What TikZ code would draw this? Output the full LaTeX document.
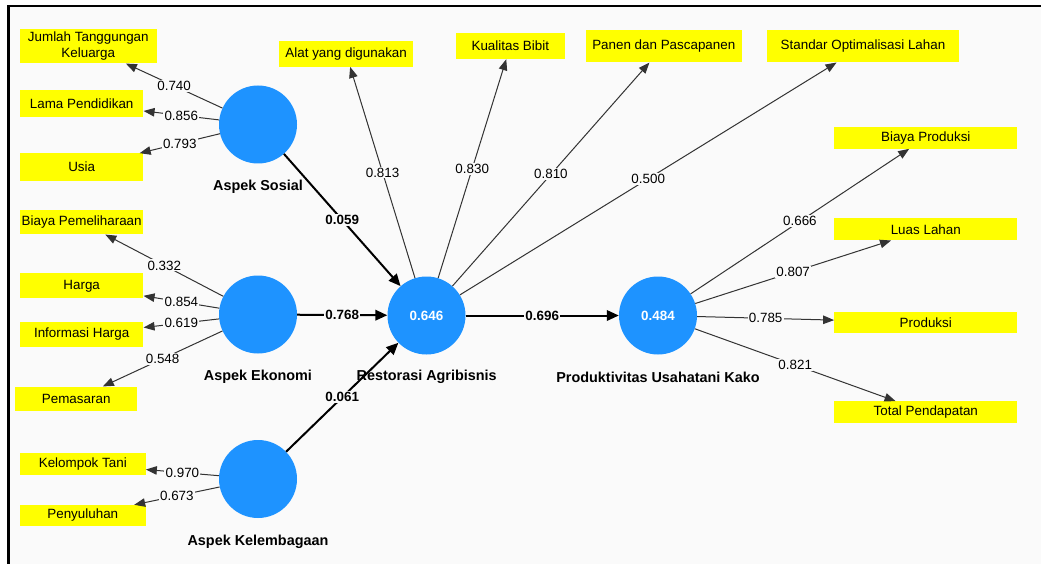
\documentclass[tikz,border=0pt]{standalone}
\usepackage{fontspec}
\setmainfont{Liberation Sans}
\usetikzlibrary{arrows.meta}
\definecolor{bg}{HTML}{FAFAFA}
\definecolor{lv}{HTML}{1E93FF}
\definecolor{ind}{HTML}{FFFF00}
\definecolor{ln}{HTML}{333333}
\tikzset{
  txt/.style={font=\fontsize{13.4}{16.5}\selectfont},
  boxnode/.style={txt, fill=ind, inner sep=0pt, align=center},
  lvnode/.style={circle, fill=lv, minimum size=78pt, inner sep=0pt, text=white, font=\bfseries\fontsize{13.4}{16}\selectfont},
  lvlabel/.style={font=\bfseries\fontsize{14.4}{17}\selectfont},
  load/.style={draw=ln, line width=1pt, -{Triangle[length=11pt,width=8.5pt]}},
  pathc/.style={draw=black, line width=2pt, -{Triangle[length=12pt,width=10.5pt]}},
  lval/.style={txt, fill=bg, inner sep=1.2pt},
  pval/.style={font=\bfseries\fontsize{13.4}{16}\selectfont, fill=bg, inner sep=1.2pt},
}
\begin{document}
\begin{tikzpicture}[x=1pt,y=-1pt]
\useasboundingbox (0,0) rectangle (1041,564);
\fill[white] (0,0) rectangle (1041,564);
\fill[bg] (8.3,6) rectangle (1041,564);
\draw[line width=2.5pt] (8.3,564) -- (8.3,6) -- (1041,6);

% latent variables
\node[lvnode] (sos) at (258,124.5) {};
\node[lvnode] (eko) at (258,314.5) {};
\node[lvnode] (kel) at (258,479) {};
\node[lvnode] (res) at (426.5,315.5) {0.646};
\node[lvnode] (pro) at (658,315.5) {0.484};

\node[lvlabel] (sosl) at (258,187) {Aspek Sosial};
\node[lvlabel] (ekol) at (258,377) {Aspek Ekonomi};
\node[lvlabel] (kell) at (258,541.5) {Aspek Kelembagaan};
\node[lvlabel] (resl) at (426.7,377.3) {Restorasi Agribisnis};
\node[lvlabel] (prol) at (658,377.3) {Produktivitas Usahatani Kako};

% indicators
\node[boxnode, minimum width=136.7pt, minimum height=34.3pt] (jtk) at (88.3,46.2) {Jumlah Tanggungan\\Keluarga};
\node[boxnode, minimum width=123.3pt, minimum height=27.3pt] (lp) at (81.7,103.7) {Lama Pendidikan};
\node[boxnode, minimum width=123.3pt, minimum height=27.7pt] (usia) at (81.7,167.2) {Usia};
\node[boxnode, minimum width=123.3pt, minimum height=24.3pt] (bpm) at (81.7,222.2) {Biaya Pemeliharaan};
\node[boxnode, minimum width=123.3pt, minimum height=25pt] (hrg) at (81.7,285.8) {Harga};
\node[boxnode, minimum width=123.3pt, minimum height=24.4pt] (ih) at (81.7,334.5) {Informasi Harga};
\node[boxnode, minimum width=122.3pt, minimum height=24.3pt] (pms) at (76.2,398.8) {Pemasaran};
\node[boxnode, minimum width=125.7pt, minimum height=21.7pt] (kt) at (82.8,464.2) {Kelompok Tani};
\node[boxnode, minimum width=125.7pt, minimum height=21pt] (pny) at (82.8,515.5) {Penyuluhan};

\node[boxnode, minimum width=134.3pt, minimum height=25.4pt] (alat) at (346.2,54) {Alat yang digunakan};
\node[boxnode, minimum width=108.7pt, minimum height=25.7pt] (kb) at (510.3,46.2) {Kualitas Bibit};
\node[boxnode, minimum width=155.7pt, minimum height=32.3pt] (pp) at (663.8,46.2) {Panen dan Pascapanen};
\node[boxnode, minimum width=192.6pt, minimum height=32.3pt] (sol) at (863,46.2) {Standar Optimalisasi Lahan};

\node[boxnode, minimum width=183pt, minimum height=21.7pt] (bprod) at (925.8,137.8) {Biaya Produksi};
\node[boxnode, minimum width=183pt, minimum height=22pt] (luas) at (925.8,229.3) {Luas Lahan};
\node[boxnode, minimum width=183pt, minimum height=21pt] (prod) at (925.8,322.5) {Produksi};
\node[boxnode, minimum width=183pt, minimum height=21.4pt] (tot) at (925.8,412) {Total Pendapatan};

% loadings
\draw[load] (sos) -- node[lval] {0.740} (jtk);
\draw[load] (sos) -- node[lval] {0.856} (lp);
\draw[load] (sos) -- node[lval] {0.793} (usia);
\draw[load] (eko) -- node[lval] {0.332} (bpm);
\draw[load] (eko) -- node[lval] {0.854} (hrg);
\draw[load] (eko) -- node[lval] {0.619} (ih);
\draw[load] (eko) -- node[lval] {0.548} (pms);
\draw[load] (kel) -- node[lval] {0.970} (kt);
\draw[load] (kel) -- node[lval] {0.673} (pny);
\draw[load] (res) -- node[lval] {0.813} (alat);
\draw[load] (res) -- node[lval] {0.830} (kb);
\draw[load] (res) -- node[lval] {0.810} (pp);
\draw[load] (res) -- node[lval] {0.500} (sol);
\draw[load] (pro) -- node[lval] {0.666} (bprod);
\draw[load] (pro) -- node[lval] {0.807} (luas);
\draw[load] (pro) -- node[lval] {0.785} (prod);
\draw[load] (pro) -- node[lval] {0.821} (tot);

% path coefficients
\draw[pathc] (sos) -- node[pval] {0.059} (res);
\draw[pathc] (eko) -- node[pval] {0.768} (res);
\draw[pathc] (kel) -- node[pval] {0.061} (res);
\draw[pathc] (res) -- node[pval] {0.696} (pro);
\end{tikzpicture}
\end{document}
